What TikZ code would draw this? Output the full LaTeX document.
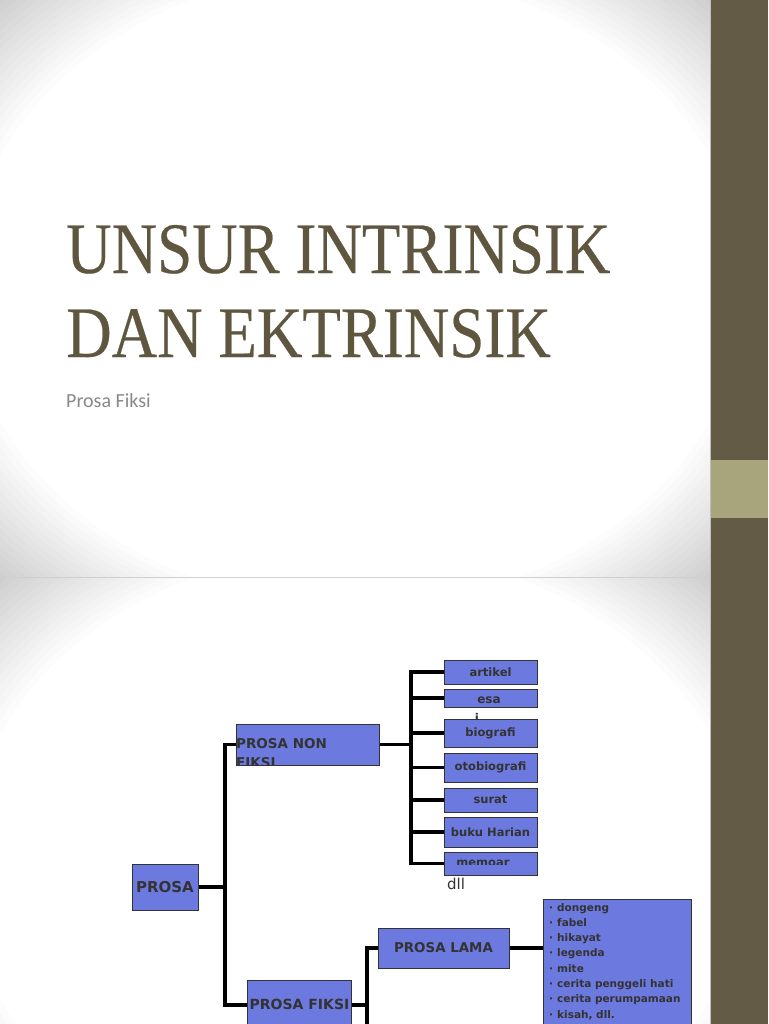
\documentclass[tikz,border=0pt]{standalone}
\usepackage{fontspec}
\newfontfamily\titlefont{Liberation Serif}[FakeBold=0.35]
\newfontfamily\subfont{Carlito}
\newfontfamily\dfont{DejaVu Sans}
\usetikzlibrary{calc}
\definecolor{barbrown}{RGB}{99,91,69}
\definecolor{barlight}{RGB}{168,165,125}
\definecolor{titlecol}{RGB}{94,86,63}
\definecolor{boxblue}{RGB}{108,121,222}
\definecolor{txtdark}{RGB}{51,51,51}
\definecolor{subgray}{RGB}{137,137,137}
\begin{document}
\begin{tikzpicture}[x=1pt,y=-1pt,
  box/.style={draw=txtdark, line width=0.8pt, fill=boxblue, inner sep=0pt, text=txtdark, font=\dfont\bfseries\fontsize{11.5}{13}\selectfont},
  smallbox/.style={box, minimum width=93pt},
  ghost/.style={draw=none, fill=none},
  conn/.style={line width=3.2pt, black},
  btxt/.style={inner sep=0pt, text=txtdark},
  vigring/.style={fill=black, opacity=0.013, even odd rule},
  item/.style={anchor=base west, inner sep=0pt, text=txtdark, font=\dfont\bfseries\fontsize{10.5}{12}\selectfont}]
\useasboundingbox (0,0) rectangle (768,1024);
% backgrounds
\fill[white] (0,0) rectangle (768,1024);
\begin{scope}
\clip (0,0) rectangle (710,577.5);
\foreach \k in {0,...,15}
  \fill[vigring] (0,0) rectangle (710,577.5) (355,288.5) ellipse ({355*(1.10+0.02*\k)} and {288.5*(1.10+0.02*\k)});
\end{scope}
\begin{scope}
\clip (0,577.5) rectangle (710,1024);
\foreach \k in {0,...,15}
  \fill[vigring] (0,577.5) rectangle (710,1155) (355,866.5) ellipse ({355*(1.10+0.02*\k)} and {288.5*(1.10+0.02*\k)});
\end{scope}
\fill[barbrown] (710,0) rectangle (768,1024);
\fill[barlight] (710,460) rectangle (768,518);
\draw[black!25, line width=0.6pt] (710,0) -- (710,1024);
% title slide
\node[anchor=base west, inner sep=0pt, text=titlecol, font=\titlefont\fontsize{72.5}{85}\selectfont] (t1) at (66,273) {\scalebox{0.869}[1]{UNSUR INTRINSIK}};
\node[anchor=base west, inner sep=0pt, text=titlecol, font=\titlefont\fontsize{72.5}{85}\selectfont] (t2) at (66,357) {\scalebox{0.869}[1]{DAN EKTRINSIK}};
\node[anchor=base west, inner sep=0pt, text=subgray, font=\subfont\fontsize{20}{24}\selectfont] (sub) at (66,407) {Prosa Fiksi};
% diagram coordinates
\coordinate (b0) at (225,887);
\coordinate (b1) at (411,744.5);
\coordinate (b2) at (367,1005);
\coordinate (b2end) at (367,1035);
% box placements (outlines drawn after the connectors)
\path (490.5,672) node[smallbox, minimum height=24pt, ghost] (artikel) {}
      (490.5,698) node[smallbox, minimum height=18pt, ghost] (esa) {}
      (490.5,733) node[smallbox, minimum height=28pt, ghost] (biografi) {}
      (490.5,767.5) node[smallbox, minimum height=29pt, ghost] (otobiografi) {}
      (490.5,800) node[smallbox, minimum height=24pt, ghost] (surat) {}
      (490.5,832) node[smallbox, minimum height=30pt, ghost] (buku) {}
      (490.5,863.5) node[smallbox, minimum height=23pt, ghost] (memoar) {}
      (307.5,744.5) node[box, minimum width=143pt, minimum height=41pt, ghost] (pnf) {}
      (165,887) node[box, minimum width=66pt, minimum height=46pt, ghost] (prosa) {}
      (299,1005) node[box, minimum width=104pt, minimum height=50pt, ghost] (pf) {}
      (443.5,948) node[box, minimum width=131pt, minimum height=40pt, ghost] (lama) {}
      (617,964.5) node[box, minimum width=148pt, minimum height=131pt, ghost] (list) {};
% connectors
\draw[conn] (prosa.east) -- (b0);
\draw[conn] (b0) |- (pnf.west);
\draw[conn] (b0) |- (pf.west);
\draw[conn] (pnf.east) -- (b1);
\foreach \c in {artikel,esa,biografi,otobiografi,surat,buku,memoar}
  \draw[conn] (b1) |- (\c.west);
\draw[conn] (pf.east) -- (b2) |- (lama.west);
\draw[conn] (b2) -- (b2end);
\draw[conn] (lama.east) -- (lama.east -| list.west);
% boxes drawn
\node[smallbox, minimum height=24pt] at (artikel) {artikel};
\node[smallbox, minimum height=18pt] at (esa) {};
\node[btxt, anchor=base, font=\dfont\bfseries\fontsize{12}{13}\selectfont] at (489,703) {esa};
\node[btxt, anchor=base, font=\dfont\bfseries\fontsize{12}{13}\selectfont] at (477,722) {i};
\node[smallbox, minimum height=28pt] at (biografi) {biografi};
\node[smallbox, minimum height=29pt] at (otobiografi) {otobiografi};
\node[smallbox, minimum height=24pt] at (surat) {surat};
\node[smallbox, minimum height=30pt] at (buku) {buku Harian};
\node[smallbox, minimum height=23pt] at (memoar) {};
\begin{scope}
\clip (444,852) rectangle (537,864.5);
\node[btxt, anchor=base, font=\dfont\bfseries\fontsize{11.5}{13}\selectfont] at (483,866) {memoar};
\end{scope}
\node[btxt, font=\dfont\fontsize{15}{17}\selectfont] at (456,884) {dll};
\node[box, minimum width=143pt, minimum height=41pt] at (pnf) {};
\begin{scope}
\clip (230,724) rectangle (379,765);
\node[btxt, anchor=base west, font=\dfont\bfseries\fontsize{13.5}{15}\selectfont] at (236,748) {PROSA NON};
\node[btxt, anchor=base west, font=\dfont\bfseries\fontsize{13.5}{15}\selectfont] at (236,767) {FIKSI};
\end{scope}
\node[box, minimum width=66pt, minimum height=46pt, font=\dfont\bfseries\fontsize{15}{17}\selectfont] at (prosa) {PROSA};
\node[box, minimum width=104pt, minimum height=50pt] at (pf) {};
\node[btxt, anchor=base, font=\dfont\bfseries\fontsize{14}{16}\selectfont] at (299.5,1009) {PROSA FIKSI};
\node[box, minimum width=131pt, minimum height=40pt, font=\dfont\bfseries\fontsize{13.4}{15}\selectfont] at (lama) {PROSA LAMA};
\node[box, minimum width=148pt, minimum height=131pt] at (list) {};
\foreach \t [count=\i from 0] in {dongeng,fabel,hikayat,legenda,mite,cerita penggeli hati,cerita perumpamaan,{kisah, dll.}}
  \node[item] at (549,911+15.3*\i) {·\hspace{4pt}\t};
\end{tikzpicture}
\end{document}
